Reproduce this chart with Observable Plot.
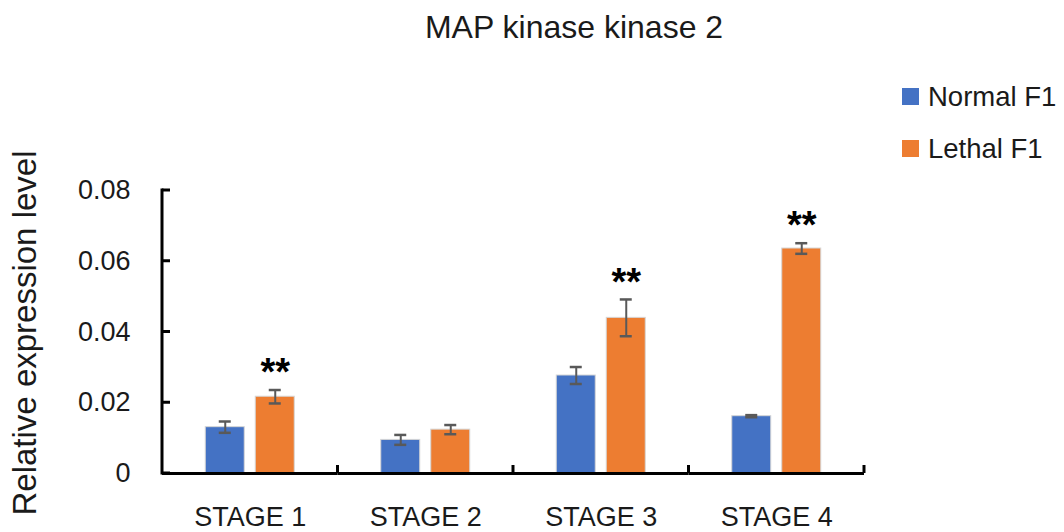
<!DOCTYPE html>
<html>
<head>
<meta charset="utf-8">
<script src="https://cdn.jsdelivr.net/npm/d3@7"></script>
<script src="https://cdn.jsdelivr.net/npm/@observablehq/plot@0.6"></script>
<style>
  html, body { margin: 0; padding: 0; background: #fff; }
  #wrap { position: relative; width: 1064px; height: 532px; overflow: hidden; font-family: "Liberation Sans", Arial, sans-serif; color: #1a1a1a; }
  #title { position: absolute; left: 574px; top: 11px; transform: translateX(-50%); font-size: 32px; line-height: 1; white-space: nowrap; }
  #ylabel { position: absolute; left: 23.6px; top: 333px; transform: translate(-50%, -50%) rotate(-90deg); font-size: 33px; line-height: 1; white-space: nowrap; }
  .leg { position: absolute; left: 902px; display: flex; align-items: center; font-size: 27.5px; line-height: 1; white-space: nowrap; }
  .leg span.sw { display: inline-block; width: 17px; height: 17px; margin-right: 9px; }
  svg { display: block; }
</style>
</head>
<body>
<div id="wrap">
  <div id="chart"></div>
  <div id="title"></div>
  <div id="ylabel"></div>
  <div id="legend"></div>
</div>
<script>
const title = "MAP kinase kinase 2";
const yLabel = "Relative expression level";
const stages = ["STAGE 1", "STAGE 2", "STAGE 3", "STAGE 4"];
const series = ["Normal F1", "Lethal F1"];
const colors = ["#4472C4", "#ED7D31"];
const normalMean = [0.0131, 0.0095, 0.0277, 0.0162];
const normalErr  = [0.0016, 0.0014, 0.0024, 0.0003];
const lethalMean = [0.0217, 0.0124, 0.0440, 0.0636];
const lethalErr  = [0.0019, 0.0013, 0.0052, 0.0015];
const lethalSig  = ["**", "", "**", "**"];
const yTicks = [0, 0.02, 0.04, 0.06, 0.08];
const yTickLabels = ["0", "0.02", "0.04", "0.06", "0.08"];

const rows = [];
stages.forEach((s, i) => {
  rows.push({stage: s, series: series[0], value: normalMean[i], lo: normalMean[i] - normalErr[i], hi: normalMean[i] + normalErr[i], sig: ""});
  rows.push({stage: s, series: series[1], value: lethalMean[i], lo: lethalMean[i] - lethalErr[i], hi: lethalMean[i] + lethalErr[i], sig: lethalSig[i]});
});

const plot = Plot.plot({
  width: 1064,
  height: 532,
  marginLeft: 162,
  marginRight: 200,
  marginTop: 190,
  marginBottom: 59,
  style: {fontFamily: '"Liberation Sans", Arial, sans-serif', fontSize: "27px", color: "#1a1a1a", background: "white", overflow: "visible"},
  fx: {domain: stages, padding: 0, round: false, label: null},
  x: {domain: series, paddingInner: 0.22, paddingOuter: 0.865, round: false, axis: null},
  y: {domain: [0, 0.08], label: null},
  color: {domain: series, range: colors},
  marks: [
    Plot.axisFx({anchor: "bottom", tickSize: 0, tickPadding: 33, label: null}),
    Plot.axisY({ticks: yTicks, tickFormat: d => yTickLabels[yTicks.indexOf(d)], tickSize: 0, tickPadding: 32, label: null}),
    Plot.barY(rows, {fx: "stage", x: "series", y: "value", fill: "series", stroke: "#d6d6d6", strokeWidth: 1}),
    Plot.ruleX(rows, {fx: "stage", x: "series", y1: "lo", y2: "hi", stroke: "#595959", strokeWidth: 2}),
    Plot.tickY(rows, {fx: "stage", x: "series", y: "lo", stroke: "#595959", strokeWidth: 2.5, insetLeft: 13.5, insetRight: 13.5}),
    Plot.tickY(rows, {fx: "stage", x: "series", y: "hi", stroke: "#595959", strokeWidth: 2.5, insetLeft: 13.5, insetRight: 13.5}),
    Plot.text(rows.filter(d => d.sig), {fx: "stage", x: "series", y: "hi", text: "sig", dy: -17, fontSize: 38, fontWeight: "bold", fill: "#000"}),
    Plot.ruleY([0], {stroke: "#000", strokeWidth: 3})
  ]
});

document.getElementById("chart").appendChild(plot);

// Excel-style axis line and inward tick marks, placed through Plot's scales
const svg = d3.select(plot.tagName.toLowerCase() === "svg" ? plot : plot.querySelector("svg"));
const fxS = plot.scale("fx");
const yS = plot.scale("y");
const left = fxS.apply(stages[0]);
const y0 = yS.apply(0);
const g = svg.append("g").attr("stroke", "#000").attr("fill", "none");
g.append("line").attr("x1", left).attr("x2", left).attr("y1", y0 + 1.5).attr("y2", yS.apply(yTicks[yTicks.length - 1]) - 1.5).attr("stroke-width", 3);
yTicks.forEach(t => {
  g.append("line").attr("x1", left).attr("x2", left + 8).attr("y1", yS.apply(t)).attr("y2", yS.apply(t)).attr("stroke-width", 3);
});
stages.forEach(s => {
  const bx = fxS.apply(s) + fxS.bandwidth;
  g.append("line").attr("x1", bx).attr("x2", bx).attr("y1", y0).attr("y2", y0 - 8).attr("stroke-width", 3);
});

document.getElementById("title").textContent = title;
document.getElementById("ylabel").textContent = yLabel;
const legend = document.getElementById("legend");
const legTops = [83, 135];
series.forEach((s, i) => {
  const item = document.createElement("div");
  item.className = "leg";
  item.style.top = legTops[i] + "px";
  const sw = document.createElement("span");
  sw.className = "sw";
  sw.style.background = colors[i];
  item.appendChild(sw);
  item.appendChild(document.createTextNode(s));
  legend.appendChild(item);
});
</script>
</body>
</html>
